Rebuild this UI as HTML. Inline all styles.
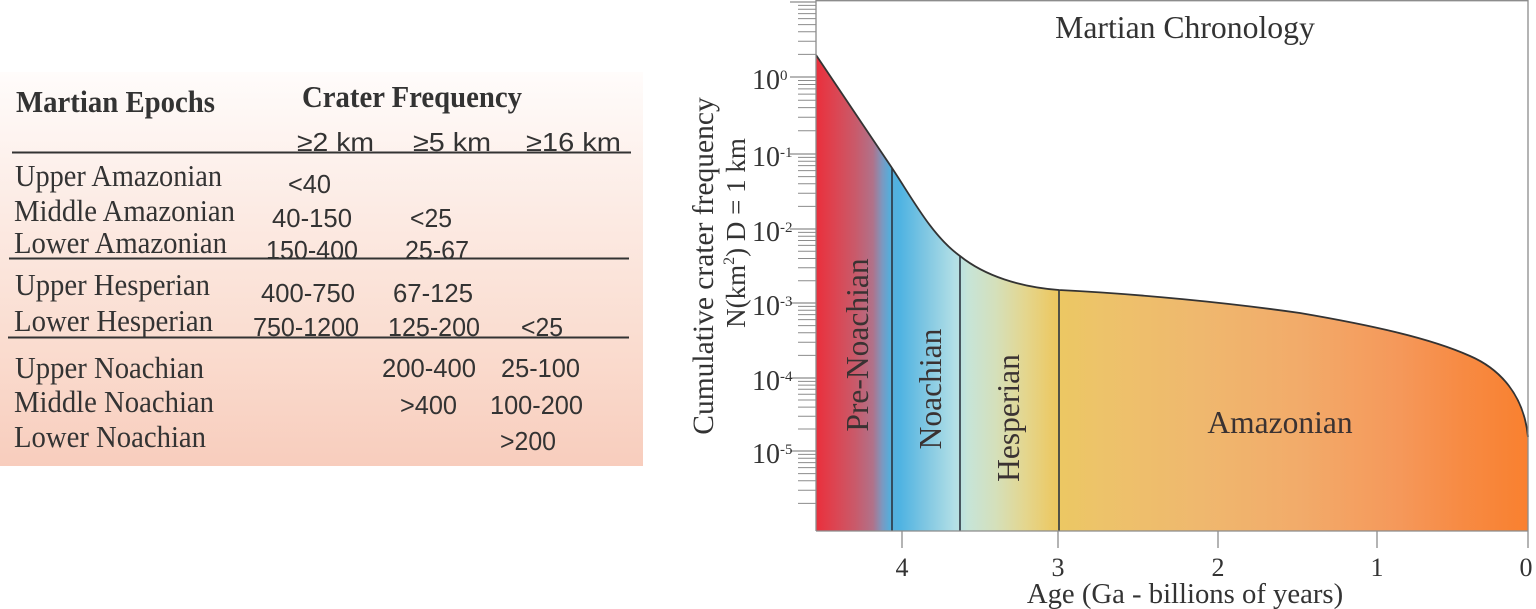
<!DOCTYPE html>
<html>
<head>
<meta charset="utf-8">
<style>
  html, body { margin: 0; padding: 0; background: #ffffff; }
  body { width: 1536px; height: 609px; overflow: hidden; }
  svg { display: block; }
  .serif { font-family: "Liberation Serif", "Times New Roman", serif; }
  .sans { font-family: "Liberation Sans", Arial, sans-serif; }
</style>
</head>
<body>
<svg width="1536" height="609" viewBox="0 0 1536 609" xmlns="http://www.w3.org/2000/svg">
  <defs>
    <linearGradient id="tbl" x1="0" y1="72" x2="0" y2="466" gradientUnits="userSpaceOnUse">
      <stop offset="0" stop-color="#fffcfb"/>
      <stop offset="0.35" stop-color="#fcebe4"/>
      <stop offset="0.7" stop-color="#fadccf"/>
      <stop offset="1" stop-color="#f8cdbd"/>
    </linearGradient>
    <linearGradient id="era" x1="816" y1="0" x2="1528" y2="0" gradientUnits="userSpaceOnUse">
      <stop offset="0" stop-color="#ea2f3c"/>
      <stop offset="0.027" stop-color="#dc4552"/>
      <stop offset="0.055" stop-color="#c95a6a"/>
      <stop offset="0.08" stop-color="#b0728a"/>
      <stop offset="0.093" stop-color="#7c98c0"/>
      <stop offset="0.103" stop-color="#58acd9"/>
      <stop offset="0.118" stop-color="#4fb3e2"/>
      <stop offset="0.153" stop-color="#7ec6e2"/>
      <stop offset="0.195" stop-color="#b2dfe6"/>
      <stop offset="0.213" stop-color="#c6e4d8"/>
      <stop offset="0.251" stop-color="#d4e0bc"/>
      <stop offset="0.294" stop-color="#e4d68e"/>
      <stop offset="0.336" stop-color="#ecc862"/>
      <stop offset="0.399" stop-color="#edc36a"/>
      <stop offset="0.539" stop-color="#efb86e"/>
      <stop offset="0.68" stop-color="#f2ab6a"/>
      <stop offset="0.82" stop-color="#f5985a"/>
      <stop offset="0.904" stop-color="#f78b44"/>
      <stop offset="1" stop-color="#f9802f"/>
    </linearGradient>
  </defs>

  <!-- ================= LEFT TABLE ================= -->
  <rect x="0" y="72" width="643" height="394" fill="url(#tbl)"/>

  <g fill="#333333">
    <text class="serif" x="16" y="112" font-size="31" font-weight="bold" textLength="199" lengthAdjust="spacingAndGlyphs">Martian Epochs</text>
    <text class="serif" x="302" y="107" font-size="31" font-weight="bold" textLength="220" lengthAdjust="spacingAndGlyphs">Crater Frequency</text>

    <text class="sans" x="297" y="151" font-size="26" textLength="77" lengthAdjust="spacingAndGlyphs">≥2 km</text>
    <text class="sans" x="413" y="151" font-size="26" textLength="78" lengthAdjust="spacingAndGlyphs">≥5 km</text>
    <text class="sans" x="526" y="151" font-size="26" textLength="95" lengthAdjust="spacingAndGlyphs">≥16 km</text>

    <text class="serif" x="15" y="186" font-size="31" textLength="207" lengthAdjust="spacingAndGlyphs">Upper Amazonian</text>
    <text class="serif" x="14" y="221" font-size="31" textLength="221" lengthAdjust="spacingAndGlyphs">Middle Amazonian</text>
    <text class="serif" x="14" y="253" font-size="31" textLength="213" lengthAdjust="spacingAndGlyphs">Lower Amazonian</text>
    <text class="serif" x="15" y="295" font-size="31" textLength="195" lengthAdjust="spacingAndGlyphs">Upper Hesperian</text>
    <text class="serif" x="14" y="331" font-size="31" textLength="199" lengthAdjust="spacingAndGlyphs">Lower Hesperian</text>
    <text class="serif" x="15" y="378" font-size="31" textLength="189" lengthAdjust="spacingAndGlyphs">Upper Noachian</text>
    <text class="serif" x="14" y="412" font-size="31" textLength="200" lengthAdjust="spacingAndGlyphs">Middle Noachian</text>
    <text class="serif" x="14" y="447" font-size="31" textLength="192" lengthAdjust="spacingAndGlyphs">Lower Noachian</text>

    <g class="sans" font-size="26">
      <text x="288" y="193" textLength="43" lengthAdjust="spacingAndGlyphs">&lt;40</text>
      <text x="272" y="227" textLength="80" lengthAdjust="spacingAndGlyphs">40-150</text>
      <text x="410" y="227" textLength="42" lengthAdjust="spacingAndGlyphs">&lt;25</text>
      <text x="266" y="259" textLength="92" lengthAdjust="spacingAndGlyphs">150-400</text>
      <text x="405" y="259" textLength="64" lengthAdjust="spacingAndGlyphs">25-67</text>
      <text x="261" y="302" textLength="94" lengthAdjust="spacingAndGlyphs">400-750</text>
      <text x="393" y="302" textLength="80" lengthAdjust="spacingAndGlyphs">67-125</text>
      <text x="253" y="336" textLength="106" lengthAdjust="spacingAndGlyphs">750-1200</text>
      <text x="388" y="336" textLength="92" lengthAdjust="spacingAndGlyphs">125-200</text>
      <text x="521" y="336" textLength="42" lengthAdjust="spacingAndGlyphs">&lt;25</text>
      <text x="382" y="377" textLength="94" lengthAdjust="spacingAndGlyphs">200-400</text>
      <text x="501" y="377" textLength="79" lengthAdjust="spacingAndGlyphs">25-100</text>
      <text x="400" y="414" textLength="57" lengthAdjust="spacingAndGlyphs">&gt;400</text>
      <text x="490" y="414" textLength="93" lengthAdjust="spacingAndGlyphs">100-200</text>
      <text x="500" y="450" textLength="56" lengthAdjust="spacingAndGlyphs">&gt;200</text>
    </g>
  </g>

  <g stroke="#333333" stroke-width="2">
    <line x1="12" y1="152.5" x2="631" y2="152.5"/>
    <line x1="9" y1="258.5" x2="629" y2="258.5"/>
    <line x1="8" y1="337.5" x2="629" y2="337.5"/>
  </g>

  <!-- ================= CHART ================= -->
  <path d="M816,531 L816,55 L892,168 C912,198 932,236 960,256 C985,276 1020,287 1059,290 C1140,294 1230,303 1300,313 C1370,325 1430,338 1470,356 C1500,369 1524,395 1528,437 L1528,531 Z" fill="url(#era)"/>

  <g stroke="#2b3440" stroke-width="1.6">
    <line x1="892" y1="168" x2="892" y2="531"/>
    <line x1="960" y1="256" x2="960" y2="531"/>
    <line x1="1059" y1="290" x2="1059" y2="531"/>
  </g>

  <path d="M816,55 L892,168 C912,198 932,236 960,256 C985,276 1020,287 1059,290 C1140,294 1230,303 1300,313 C1370,325 1430,338 1470,356 C1500,369 1524,395 1528,437" fill="none" stroke="#333333" stroke-width="1.8"/>

  <g stroke="#8c8c8c" stroke-width="1.3" fill="none">
    <line x1="816" y1="0.7" x2="1528" y2="0.7"/>
    <line x1="1528" y1="0" x2="1528" y2="548"/>
    <line x1="816" y1="531" x2="1528" y2="531"/>
    <line x1="816" y1="0" x2="816" y2="531"/>
  </g>

  <g stroke="#8c8c8c" stroke-width="1.3">
    <line x1="902" y1="531" x2="902" y2="548"/>
    <line x1="1058" y1="531" x2="1058" y2="548"/>
    <line x1="1218" y1="531" x2="1218" y2="548"/>
    <line x1="1377" y1="531" x2="1377" y2="548"/>
  </g>

  <path stroke="#8c8c8c" stroke-width="1.2" fill="none" d="
    M790,2H816 M790,77H816 M790,154H816 M790,229H816 M790,303H816 M790,378H816 M790,451H816"/>
  <path stroke="#8c8c8c" stroke-width="1" fill="none" d="
    M798,54.4H816 M798,41.2H816 M798,31.8H816 M798,24.6H816 M798,18.6H816 M798,13.6H816 M798,9.3H816 M798,5.4H816
    M798,130.8H816 M798,117.3H816 M798,107.6H816 M798,100.2H816 M798,94.1H816 M798,88.9H816 M798,84.5H816 M798,80.5H816
    M798,206.4H816 M798,193.2H816 M798,183.8H816 M798,176.6H816 M798,170.6H816 M798,165.6H816 M798,161.3H816 M798,157.4H816
    M798,280.7H816 M798,267.7H816 M798,258.5H816 M798,251.3H816 M798,245.4H816 M798,240.5H816 M798,236.2H816 M798,232.4H816
    M798,355.4H816 M798,342.2H816 M798,332.8H816 M798,325.6H816 M798,319.6H816 M798,314.6H816 M798,310.3H816 M798,306.4H816
    M798,429.0H816 M798,416.2H816 M798,407.1H816 M798,400.0H816 M798,394.2H816 M798,389.3H816 M798,385.1H816 M798,381.4H816
    M798,503.4H816 M798,490.2H816 M798,480.8H816 M798,473.6H816 M798,467.6H816 M798,462.6H816 M798,458.3H816 M798,454.4H816"/>

  <g class="serif" fill="#333333">
    <text x="780" y="89" font-size="28" text-anchor="end">10</text><text x="780" y="80" font-size="15">0</text>
    <text x="780" y="166" font-size="28" text-anchor="end">10</text><text x="780" y="157" font-size="15">-1</text>
    <text x="780" y="241" font-size="28" text-anchor="end">10</text><text x="780" y="232" font-size="15">-2</text>
    <text x="780" y="315" font-size="28" text-anchor="end">10</text><text x="780" y="306" font-size="15">-3</text>
    <text x="780" y="390" font-size="28" text-anchor="end">10</text><text x="780" y="381" font-size="15">-4</text>
    <text x="780" y="463" font-size="28" text-anchor="end">10</text><text x="780" y="454" font-size="15">-5</text>
  </g>

  <g class="serif" fill="#333333">
    <text transform="translate(713,266) rotate(-90)" font-size="29.5" text-anchor="middle">Cumulative crater frequency</text>
    <text transform="translate(745,233) rotate(-90)" font-size="27" text-anchor="middle">N(km<tspan font-size="16" dy="-11">2</tspan><tspan dy="11">) D = 1 km</tspan></text>
  </g>

  <g class="serif" fill="#333333" font-size="26" text-anchor="middle">
    <text x="902" y="576">4</text>
    <text x="1058" y="576">3</text>
    <text x="1218" y="576">2</text>
    <text x="1377" y="576">1</text>
    <text x="1526" y="576">0</text>
  </g>

  <text class="serif" x="1185" y="603" font-size="28.7" fill="#333333" text-anchor="middle">Age (Ga - billions of years)</text>

  <text class="serif" x="1185" y="38" font-size="31.7" fill="#333333" text-anchor="middle">Martian Chronology</text>

  <g class="serif" fill="#3a3232" font-size="31.5">
    <text transform="translate(868,345) rotate(-90)" text-anchor="middle">Pre-Noachian</text>
    <text transform="translate(941,389) rotate(-90)" text-anchor="middle">Noachian</text>
    <text transform="translate(1019,418) rotate(-90)" text-anchor="middle">Hesperian</text>
    <text x="1280" y="433" text-anchor="middle">Amazonian</text>
  </g>
</svg>
</body>
</html>
